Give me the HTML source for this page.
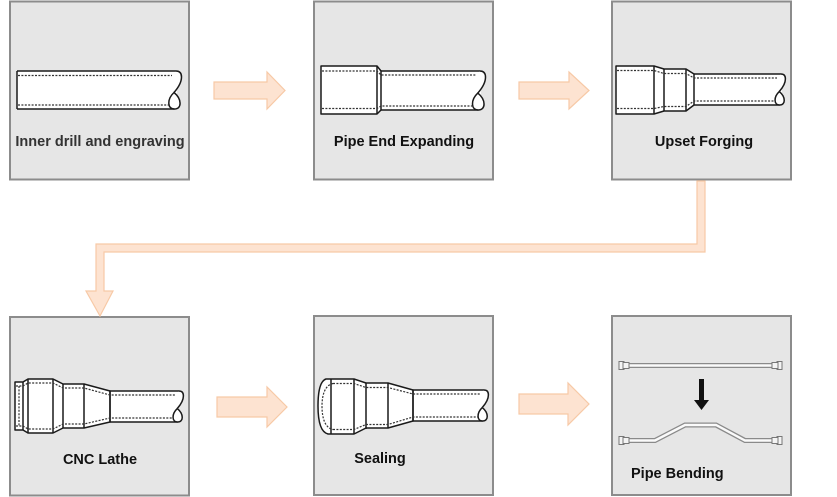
<!DOCTYPE html>
<html>
<head>
<meta charset="utf-8">
<style>
html,body{margin:0;padding:0;background:#fff;}
svg{display:block;}
text{font-family:"Liberation Sans",Arial,sans-serif;font-weight:bold;font-size:14.5px;}
.box{fill:#e6e6e6;stroke:#8c8c8c;stroke-width:2;}
.arr{fill:#fde3d1;stroke:#f7c9a6;stroke-width:1.2;}
.p{fill:none;stroke:#1a1a1a;stroke-width:1.5;stroke-linejoin:round;}
.pf{fill:#fff;stroke:#1a1a1a;stroke-width:1.5;stroke-linejoin:round;}
.w{fill:#fff;stroke:none;}
.d{fill:none;stroke:#333;stroke-width:1.2;stroke-dasharray:2 1.4;}
.tube{fill:none;stroke:#8a8a8a;stroke-width:5;stroke-linejoin:miter;}
.tubei{fill:none;stroke:#fafafa;stroke-width:2.4;stroke-linejoin:miter;}
.fit{fill:#f4f4f4;stroke:#777;stroke-width:1;}
</style>
</head>
<body>
<svg width="837" height="497" viewBox="0 0 837 497" xmlns="http://www.w3.org/2000/svg">
<defs>
  <g id="pend">
    <path d="M-5,0 Q0.5,0 0.5,6 Q0.5,13 -7,21.5" fill="#fff" stroke="#1a1a1a" stroke-width="1.5" vector-effect="non-scaling-stroke"/>
    <path d="M-7,21.5 C-14,28 -14,38 -6.5,38 C1,38 1,28 -7,21.5 Z" fill="#fff" stroke="#1a1a1a" stroke-width="1.5" vector-effect="non-scaling-stroke"/>
  </g>
</defs>

<!-- Boxes -->
<rect class="box" x="10" y="1.5" width="179" height="178"/>
<rect class="box" x="314" y="1.5" width="179" height="178"/>
<rect class="box" x="612" y="1.5" width="179" height="178"/>
<rect class="box" x="10" y="317" width="179" height="178.5"/>
<rect class="box" x="314" y="316" width="179" height="179"/>
<rect class="box" x="612" y="316" width="179" height="179"/>

<!-- Arrows -->
<polygon class="arr" points="214,82 267,82 267,72 285,90.5 267,109 267,99 214,99"/>
<polygon class="arr" points="519,82 569,82 569,72 589,90.5 569,109 569,99 519,99"/>
<polygon class="arr" points="217,397 267,397 267,387 287,407 267,427 267,417 217,417"/>
<polygon class="arr" points="519,394 568,394 568,383 589,404 568,425 568,414 519,414"/>

<!-- Connector -->
<polygon class="arr" points="697,181 705,181 705,252 104,252 104,291 113,291 100,316 86,291 96,291 96,244 697,244"/>

<!-- Pipe 1 -->
<rect class="w" x="17" y="71" width="160" height="38"/>
<path class="p" d="M17,71 V109 M17,71 H176 M17,109 H174.5"/>
<use href="#pend" transform="translate(181,71)"/>
<path class="d" d="M18,75.5 H172 M18,105 H169"/>

<!-- Pipe 2 -->
<rect class="w" x="381" y="71" width="100" height="39"/>
<path class="pf" d="M321,66 H377 L381,71 V110 L377,114 H321 Z"/>
<path class="p" d="M377,66 V114 M381,71 H480 M381,110 H478.5"/>
<use href="#pend" transform="translate(485,71) scale(1.026)"/>
<path class="d" d="M322,71 H377 L381,75 H476 M322,108.5 H377 L381,106 H473"/>

<!-- Pipe 3 -->
<rect class="w" x="690" y="74" width="92" height="31"/>
<path class="pf" d="M616,66 H654 L664,69 H686 L694,74 V105 L686,111 H664 L654,114 H616 Z"/>
<path class="p" d="M654,66 V114 M664,69 V111 M686,69 V111 M694,74 H781 M694,105 H779.7"/>
<use href="#pend" transform="translate(785,74) scale(0.816)"/>
<path class="d" d="M617,70.5 H654 L664,73.5 H686 L694,78 H777 M617,108.5 H654 L664,106.5 H686 L694,101 H775"/>

<!-- Pipe 4 CNC -->
<rect class="w" x="108" y="391" width="71" height="31"/>
<path class="pf" d="M15,382 H23 L28,379 H53 L63,384 H84 L110,391 V422 L84,428 H63 L53,433 H28 L23,430 H15 Z"/>
<path class="p" d="M23,382 V430 M28,379 V433 M53,379 V433 M63,384 V428 M84,384 V428 M110,391 V422 M110,391 H179 M110,422 H177.7"/>
<use href="#pend" transform="translate(183,391) scale(0.816)"/>
<path class="d" d="M16,386 H23 L28,383 H53 L63,388 H84 L110,395 H175 M16,426 H23 L28,429 H53 L63,424 H84 L110,418 H173"/>
<path class="d" d="M19,386 V426"/>

<!-- Pipe 5 Sealing -->
<rect class="w" x="411" y="390" width="73" height="31"/>
<path class="pf" d="M331,379 H354 L366,383 H388 L413,390 V421 L388,428 H366 L354,434 H331 L328,434 C320,432 318,420 318,406 C318,392 320,381 326,379 Z"/>
<path class="p" d="M331,379 V434 M354,379 V434 M366,383 V429 M388,383 V428 M413,390 V421 M413,390 H484 M413,421 H482.7"/>
<use href="#pend" transform="translate(488,390) scale(0.816)"/>
<path class="d" d="M333,383.5 H354 L366,387.5 H388 L413,394 H480 M333,429.5 H354 L366,424.5 H388 L413,417 H478"/>
<path class="d" d="M333,383.5 C325,385 322,395 322,406 C322,418 325,428 333,429.5"/>

<!-- Pipe bending -->
<path class="tube" d="M626,365.5 H775"/>
<path class="tubei" d="M626,365.5 H775"/>
<rect class="fit" x="619" y="361.5" width="5" height="8"/>
<rect class="fit" x="623" y="362.5" width="6" height="6"/>
<rect class="fit" x="777" y="361.5" width="5" height="8"/>
<rect class="fit" x="772" y="362.5" width="6" height="6"/>

<path class="tube" d="M626,440.5 H655 L685,425 H716 L745,440.5 H775"/>
<path class="tubei" d="M626,440.5 H655 L685,425 H716 L745,440.5 H775"/>
<rect class="fit" x="619" y="436.5" width="5" height="8"/>
<rect class="fit" x="623" y="437.5" width="6" height="6"/>
<rect class="fit" x="777" y="436.5" width="5" height="8"/>
<rect class="fit" x="772" y="437.5" width="6" height="6"/>

<rect x="699" y="379" width="5" height="22" fill="#111"/>
<polygon points="694,400 709,400 701.5,410" fill="#111"/>

<!-- Labels -->
<text x="100" y="146" text-anchor="middle" fill="#333">Inner drill and engraving</text>
<text x="404" y="146" text-anchor="middle" fill="#111">Pipe End Expanding</text>
<text x="704" y="146" text-anchor="middle" fill="#111">Upset Forging</text>
<text x="100" y="464" text-anchor="middle" fill="#111">CNC Lathe</text>
<text x="380" y="463" text-anchor="middle" fill="#111">Sealing</text>
<text x="631" y="478" fill="#111">Pipe Bending</text>
</svg>
</body>
</html>
